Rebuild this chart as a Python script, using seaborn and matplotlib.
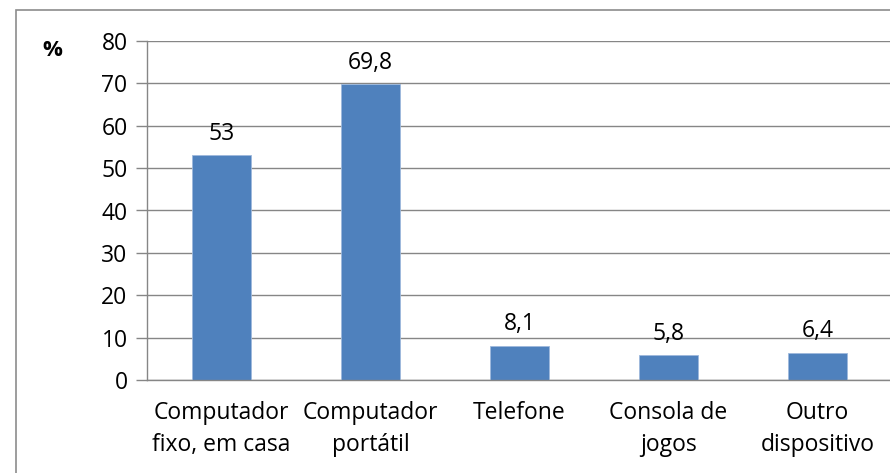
import matplotlib
matplotlib.use("Agg")
import matplotlib.pyplot as plt
import seaborn as sns
import pandas as pd
from matplotlib.patches import Rectangle

categories = ["Computador\nfixo, em casa", "Computador\nportátil", "Telefone",
              "Consola de\njogos", "Outro\ndispositivo"]
values = [53, 69.8, 8.1, 5.8, 6.4]
value_labels = ["53", "69,8", "8,1", "5,8", "6,4"]
yticks = [0, 10, 20, 30, 40, 50, 60, 70, 80]

sns.set_theme(style="white")
plt.rcParams['font.family'] = ['Open Sans', 'DejaVu Sans']
plt.rcParams['text.color'] = 'black'
plt.rcParams['xtick.color'] = 'black'
plt.rcParams['ytick.color'] = 'black'

df = pd.DataFrame({"cat": categories, "val": values})

fig = plt.figure(figsize=(8.9, 4.73), dpi=100)
ax = fig.add_axes([147/890, 1-380/473, (892-147)/890, (380-41)/473])

sns.barplot(data=df, x="cat", y="val", color="#4F81BD", width=0.4,
            saturation=1, ax=ax, edgecolor="#9EB9DC", linewidth=0.6)

gray = "#868686"
fs = 16.5
ax.set_ylim(0, 80)
ax.set_xlim(-0.5, 4.5)
ax.set_yticks(yticks)
ax.set_yticklabels([str(t) for t in yticks], fontsize=fs, color="black")
ax.yaxis.grid(True, color=gray, linewidth=1)
ax.set_axisbelow(True)
ax.set_xlabel("")
ax.set_ylabel("")

ax.set_xticks(range(len(categories)))
ax.set_xticklabels(categories, fontsize=fs, linespacing=1.45, color="black")
ax.set_xticks([i - 0.5 for i in range(len(categories) + 1)], minor=True)
ax.tick_params(axis="x", which="major", length=0, pad=15)
ax.tick_params(axis="x", which="minor", length=8, color=gray, width=1, direction="out")
ax.tick_params(axis="y", length=8, color=gray, width=1, direction="out", pad=6, left=True)

for s in ["top", "right"]:
    ax.spines[s].set_visible(False)
for s in ["left", "bottom"]:
    ax.spines[s].set_color(gray)
    ax.spines[s].set_linewidth(1)

ax.bar_label(ax.containers[0], labels=value_labels, fontsize=fs, padding=7, color="black")

fig.text(42/890, 1-51/473, "%", fontsize=16, fontweight="bold", ha="left", va="center",
         color="black")

fig.patches.append(Rectangle((16/890, -0.1), 1.2, 1-10/473+0.1, transform=fig.transFigure,
                             fill=False, edgecolor="#8C8C8C", linewidth=1.2))

fig.savefig("out.png", dpi=100)
